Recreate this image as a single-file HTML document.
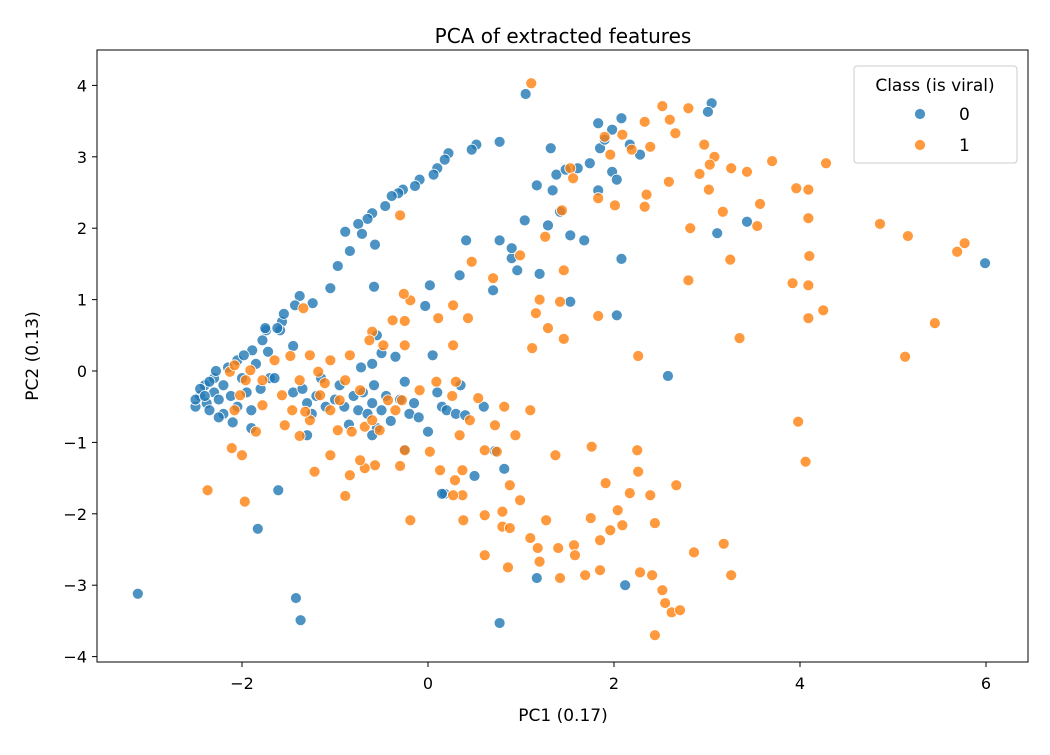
<!DOCTYPE html>
<html><head><meta charset="utf-8"><style>
body{margin:0;background:#fff}
text{font-family:"DejaVu Sans","Liberation Sans",sans-serif;fill:#000}
</style></head><body>
<svg id="chart" width="1050" height="750" xmlns="http://www.w3.org/2000/svg">
<rect width="1050" height="750" fill="#fff"/>
<text x="563" y="43" font-size="20" text-anchor="middle">PCA of extracted features</text>
<g id="marks"></g>
<rect x="97" y="50" width="931" height="612" fill="none" stroke="#000" stroke-width="1"/>
<g id="axes"></g>
<text x="563" y="721" font-size="17" text-anchor="middle">PC1 (0.17)</text>
<text transform="translate(38,356) rotate(-90)" font-size="17" text-anchor="middle">PC2 (0.13)</text>
<g>
<rect x="854" y="66" width="163" height="97" rx="3" fill="#fff" fill-opacity="0.8" stroke="#ccc"/>
<text x="935" y="91" font-size="17" text-anchor="middle">Class (is viral)</text>
<g><circle cx="920" cy="114" r="5.5" fill="#1f77b4" fill-opacity="0.8" stroke="#fff" stroke-width="0.8"/><text x="959" y="120" font-size="17">0</text></g>
<g><circle cx="920" cy="145" r="5.5" fill="#ff7f0e" fill-opacity="0.8" stroke="#fff" stroke-width="0.8"/><text x="959" y="151" font-size="17">1</text></g>
</g>
</svg>
<script>
const xTicks=[-2,0,2,4,6];
const yTicks=[-4,-3,-2,-1,0,1,2,3,4];
const class0=[[-3.12,-3.12],[-1.42,-3.18],[-1.37,-3.49],[-1.83,-2.21],[-1.61,-1.67],[0.77,-3.53],[1.17,-2.9],[2.12,-3.0],[5.99,1.51],[3.05,3.75],[3.01,3.63],[1.05,3.88],[2.08,3.54],[2.58,-0.07],[2.03,0.78],[2.08,1.57],[3.11,1.93],[3.43,2.09],
[0.77,3.21],[0.52,3.17],[0.47,3.1],[0.22,3.05],[0.18,2.96],[0.1,2.84],[0.06,2.75],[-0.09,2.68],[-0.14,2.59],[-0.27,2.54],[-0.32,2.49],[-0.39,2.45],[-0.46,2.31],[-0.6,2.21],[-0.65,2.13],[-0.75,2.06],[-0.89,1.95],[-0.84,1.68],[-0.97,1.47],[-1.05,1.16],[-1.24,0.95],[-1.38,1.05],[-1.43,0.92],[-1.57,0.69],[-1.74,0.57],[-1.78,0.43],[-1.89,0.29],[-1.72,0.27],[-1.59,0.57],[-0.57,1.77],[-0.58,1.18],[-0.71,1.92],
[1.04,2.11],[1.29,2.04],[1.42,2.23],[1.17,2.6],[1.34,2.53],[1.38,2.75],[1.48,2.82],[1.61,2.84],[1.74,2.91],[1.85,3.12],[1.9,3.24],[1.98,3.38],[1.83,3.47],[2.17,3.17],[2.28,3.03],[1.98,2.79],[2.03,2.68],[1.83,2.53],[1.53,1.9],[1.68,1.83],[0.9,1.58],[1.2,1.36],[1.53,0.97],[0.41,1.83],[0.77,1.83],[0.9,1.72],[0.34,1.34],[0.02,1.2],[-0.03,0.91],[0.7,1.13],[0.96,1.41],[1.32,3.12],
[-2.5,-0.5],[-2.45,-0.35],[-2.4,-0.2],[-2.38,-0.45],[-2.35,-0.55],[-2.3,-0.3],[-2.3,-0.1],[-2.28,0.0],[-2.25,-0.4],[-2.2,-0.6],[-2.2,-0.2],[-2.15,0.05],[-2.12,-0.35],[-2.1,-0.72],[-2.05,-0.5],[-2.05,0.15],[-2.0,-0.1],[-1.98,0.22],[-1.95,-0.3],[-1.9,-0.55],[-1.9,-0.8],[-1.85,0.1],[-1.8,-0.25],[-1.7,-0.1],[-1.75,0.6],[-1.62,0.6],[-1.55,0.8],[-2.45,-0.25],[-2.5,-0.4],[-2.35,-0.15],[-2.25,-0.65],[-2.4,-0.35],[-1.65,-0.1],
[-1.45,-0.3],[-1.35,-0.25],[-1.3,-0.45],[-1.25,-0.6],[-1.2,-0.35],[-1.15,-0.1],[-1.1,-0.5],[-1.0,-0.4],[-0.95,-0.2],[-0.9,-0.5],[-0.85,-0.75],[-0.8,-0.35],[-0.75,-0.55],[-0.72,0.05],[-0.7,-0.3],[-0.65,-0.6],[-0.6,-0.45],[-0.58,-0.2],[-0.55,-0.8],[-0.5,-0.55],[-0.5,0.25],[-0.45,-0.35],[-0.4,-0.7],[-0.35,0.2],[-0.3,-0.4],[-0.25,-0.15],[-0.2,-0.6],[-0.25,-1.1],[-0.15,-0.45],[-0.1,-0.65],[0.0,-0.85],[0.05,0.22],[0.1,-0.3],[0.15,-0.5],[0.2,-0.55],[0.3,-0.6],[0.35,-0.2],[0.4,-0.62],[0.5,-1.47],[0.6,-0.5],[0.18,-1.72],[0.15,-1.72],[-1.45,0.35],[-1.3,-0.9],[-0.55,0.5],[-0.6,0.1],[-0.6,-0.9],[0.82,-1.37],[0.72,-1.12]];
const class1=[[1.11,4.03],[2.52,3.71],[2.8,3.68],[2.6,3.52],[2.33,3.49],[2.09,3.31],[2.66,3.33],[2.39,3.14],[2.19,3.1],[1.9,3.28],[1.96,3.03],[1.53,2.84],[1.56,2.7],[1.83,2.42],[2.01,2.32],[2.33,2.3],[2.35,2.47],[2.59,2.65],[2.92,2.76],[2.97,3.17],[3.08,3.0],[3.03,2.89],[3.26,2.84],[3.43,2.79],[3.7,2.94],[4.28,2.91],[3.96,2.56],[3.57,2.34],[3.17,2.23],[2.82,2.0],[3.02,2.54],[3.54,2.03],[4.09,2.54],[4.09,2.14],[4.1,1.61],[3.92,1.23],[4.09,1.2],[4.25,0.85],[4.09,0.74],[4.86,2.06],[5.16,1.89],[5.69,1.67],[5.77,1.79],[5.45,0.67],[5.13,0.2],[3.35,0.46],[3.25,1.56],[2.8,1.27],[2.26,0.21],[1.83,0.77],[1.46,0.45],[1.42,0.97],[1.46,1.41],[1.26,1.88],[1.2,1.0],[1.16,0.81],[1.12,0.32],[0.99,1.62],[1.29,0.6],[1.44,2.25],[0.47,1.53],[0.43,0.74],[0.11,0.74],[0.27,0.36],[0.27,0.92],[-0.19,0.99],[-0.26,1.08],[-0.25,0.7],[-0.38,0.71],[-0.6,0.55],[-0.63,0.43],[-0.48,0.36],[-0.25,0.36],[-0.84,0.22],[-1.34,0.88],[-1.48,0.21],[-1.65,0.15],[-1.05,0.15],[-1.27,0.22],[-0.3,2.18],[0.7,1.3],
[3.98,-0.71],[4.06,-1.27],[2.26,-1.41],[2.25,-1.11],[1.76,-1.06],[1.37,-1.18],[1.1,-0.55],[0.82,-0.5],[0.72,-0.76],[0.61,-1.11],[0.74,-1.13],[0.94,-0.9],[0.34,-0.9],[0.37,-1.39],[0.37,-1.74],[0.38,-2.09],[0.88,-1.6],[0.8,-1.97],[0.8,-2.18],[0.99,-1.81],[0.88,-2.2],[1.27,-2.09],[1.1,-2.34],[1.18,-2.48],[1.57,-2.44],[1.4,-2.48],[1.58,-2.58],[1.69,-2.86],[1.42,-2.9],[1.85,-2.79],[1.91,-1.57],[2.17,-1.71],[2.04,-1.95],[1.96,-2.23],[2.09,-2.16],[2.44,-2.13],[2.39,-1.74],[2.67,-1.6],[2.86,-2.54],[2.41,-2.86],[2.28,-2.82],[2.55,-3.25],[2.44,-3.7],[2.62,-3.38],[2.71,-3.35],[2.52,-3.07],[3.18,-2.42],[3.26,-2.86],[1.85,-2.37],[1.75,-2.06],[0.61,-2.02],[0.27,-1.74],[0.61,-2.58],[0.86,-2.75],[1.2,-2.67],[-0.19,-2.09],[0.13,-1.39],[0.29,-1.53],[0.02,-1.13],[-0.25,-1.11],[-0.3,-1.33],[-0.57,-1.32],[-0.68,-1.36],[-0.73,-1.25],[-0.84,-1.46],[-0.89,-1.75],[-1.05,-1.18],[-1.22,-1.41],[-1.38,-0.91],[-1.54,-0.76],[-1.78,-0.48],[-1.85,-0.85],[-1.97,-1.83],[-2.37,-1.67],[-2.11,-1.08],[-2.0,-1.18],[-1.46,-0.55],[-1.57,-0.34],[-1.27,-0.69],[-1.32,-0.57],[-1.16,-0.34],[-1.05,-0.55],[-0.97,-0.83],[-0.82,-0.85],[-0.68,-0.78],[-0.52,-0.83],[-0.6,-0.69],[-0.43,-0.41],[-0.35,-0.55],[-0.28,-0.41],[0.09,-0.15],[0.26,-0.35],[0.54,-0.38],[0.45,-0.69],[-1.96,-0.13],[-2.02,-0.34],[-2.13,-0.01],[-1.91,0.01],[-2.08,-0.55],[-1.78,-0.13],[-0.89,-0.13],[-0.73,-0.27],[-1.11,-0.17],[-1.18,-0.01],[-0.95,-0.41],[-1.38,-0.13],[-0.09,-0.27],[0.3,-0.15],[-2.08,0.08]];

const NS="http://www.w3.org/2000/svg";
function sx(v){return 428+v*93;}
function sy(v){return 371-v*71.4;}
const marks=document.getElementById('marks');
function draw(arr,color,cls){
  arr.forEach(p=>{
    const c=document.createElementNS(NS,'circle');
    c.setAttribute('cx',sx(p[0]));c.setAttribute('cy',sy(p[1]));c.setAttribute('r',5.5);
    c.setAttribute('fill',color);c.setAttribute('fill-opacity','0.8');
    c.setAttribute('stroke','#fff');c.setAttribute('stroke-width','0.8');
    
    
    marks.appendChild(c);
  });
}
draw(class0,'#1f77b4','point-class-0');
draw(class1,'#ff7f0e','point-class-1');
const axes=document.getElementById('axes');
xTicks.forEach(t=>{
  const x=sx(t);
  const l=document.createElementNS(NS,'line');
  l.setAttribute('x1',x);l.setAttribute('x2',x);l.setAttribute('y1',662);l.setAttribute('y2',667);l.setAttribute('stroke','#000');
  
  
  axes.appendChild(l);
  const tx=document.createElementNS(NS,'text');
  tx.setAttribute('x',x);tx.setAttribute('y',689);tx.setAttribute('font-size','16');tx.setAttribute('text-anchor','middle');
  tx.textContent=t<0?'\u2212'+Math.abs(t):String(t);
  
  
  axes.appendChild(tx);
});
yTicks.forEach(t=>{
  const y=sy(t);
  const l=document.createElementNS(NS,'line');
  l.setAttribute('x1',92);l.setAttribute('x2',97);l.setAttribute('y1',y);l.setAttribute('y2',y);l.setAttribute('stroke','#000');
  
  
  axes.appendChild(l);
  const tx=document.createElementNS(NS,'text');
  tx.setAttribute('x',87);tx.setAttribute('y',y+6);tx.setAttribute('font-size','16');tx.setAttribute('text-anchor','end');
  tx.textContent=t<0?'\u2212'+Math.abs(t):String(t);
  
  
  axes.appendChild(tx);
});
</script>
</body></html>
